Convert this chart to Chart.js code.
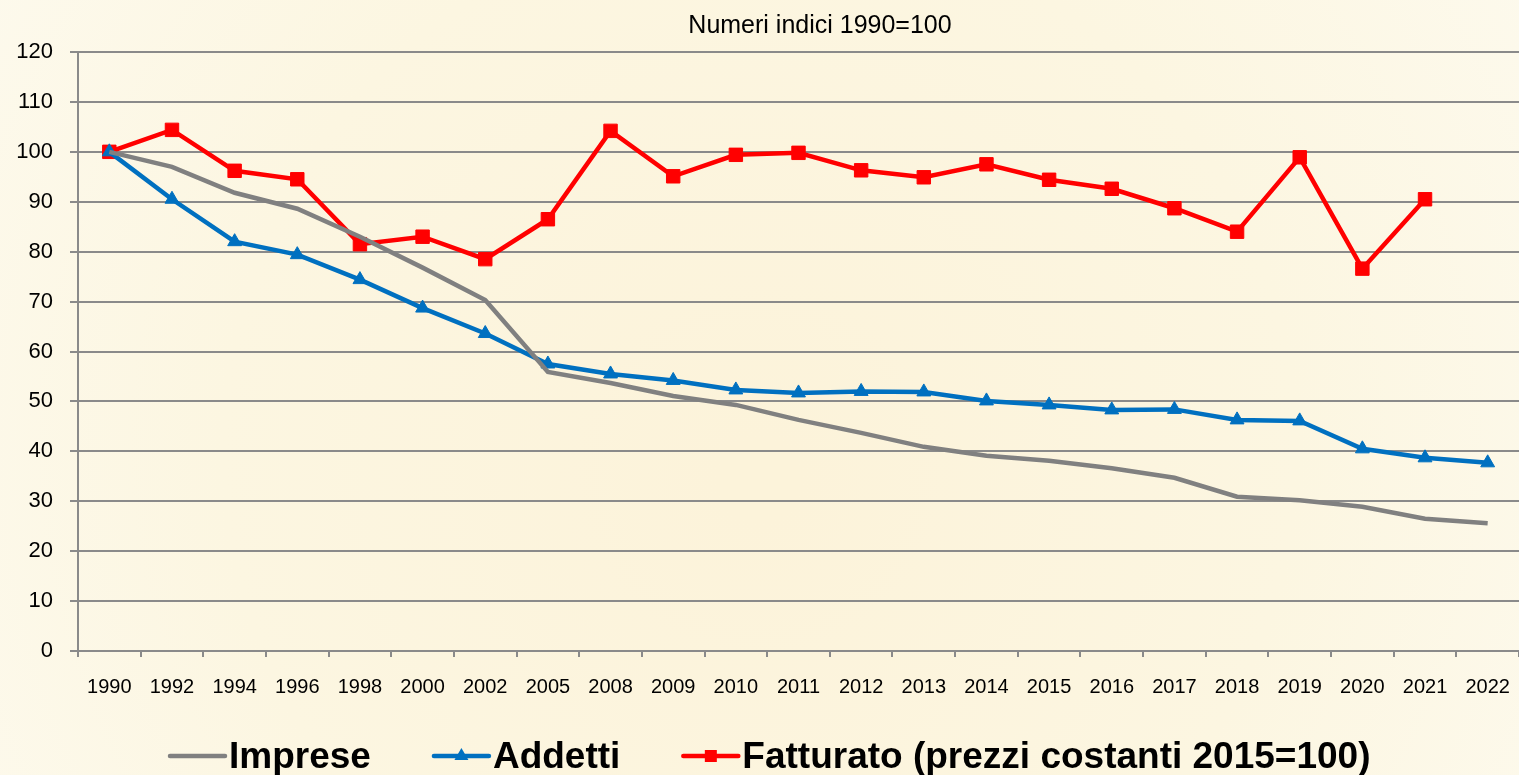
<!DOCTYPE html>
<html>
<head>
<meta charset="utf-8">
<script src="https://cdn.jsdelivr.net/npm/chart.js@4/dist/chart.umd.min.js"></script>
<style>
  html, body { margin: 0; padding: 0; background: #fdfaee; overflow: hidden; }
  canvas { display: block; }
</style>
</head>
<body>
<canvas id="chart" width="1519" height="775"></canvas>
<script>
const years = ["1990", "1992", "1994", "1996", "1998", "2000", "2002", "2005", "2008", "2009", "2010", "2011",
  "2012", "2013", "2014", "2015", "2016", "2017", "2018", "2019", "2020", "2021", "2022"];

const imprese = [100, 97.0, 91.8, 88.6, 83.0, 76.8, 70.3, 55.9, 53.7, 51.1, 49.3, 46.3,
  43.7, 40.9, 39.1, 38.1, 36.6, 34.7, 30.9, 30.2, 28.9, 26.5, 25.6];

const addetti = [100, 90.5, 82.0, 79.4, 74.4, 68.7, 63.6, 57.5, 55.5, 54.2, 52.3, 51.7,
  52.0, 51.9, 50.1, 49.3, 48.3, 48.4, 46.3, 46.1, 40.5, 38.7, 37.7];

const fatturato = [100, 104.4, 96.2, 94.5, 81.5, 83.0, 78.5, 86.5, 104.2, 95.1, 99.4, 99.8,
  96.3, 94.9, 97.5, 94.4, 92.6, 88.7, 84.0, 98.9, 76.6, 90.5, null];

const titleText = "Numeri indici 1990=100";
const seriesNames = ["Imprese", "Addetti", "Fatturato (prezzi costanti 2015=100)"];

const FONT = "'Liberation Sans', Arial, sans-serif";
const GRID = "#8a8a8a";

// sfondo + titolo + legenda disegnati a mano
const frame = {
  id: "frame",
  beforeDraw(chart) {
    const { ctx, width, height } = chart;
    ctx.save();
    const g = ctx.createRadialGradient(width * 0.5, height * 0.62, 40, width * 0.5, height * 0.55, width * 0.62);
    g.addColorStop(0, "#fcf3da");
    g.addColorStop(0.55, "#fcf6e1");
    g.addColorStop(1, "#fdfaee");
    ctx.fillStyle = g;
    ctx.fillRect(0, 0, width, height);
    ctx.restore();
  },
  afterDraw(chart) {
    const { ctx } = chart;
    ctx.save();
    ctx.fillStyle = "#000";
    ctx.font = "25px " + FONT;
    ctx.textAlign = "center";
    ctx.textBaseline = "alphabetic";
    ctx.fillText(titleText, 820, 33);

    // legenda
    ctx.font = "bold 37px " + FONT;
    ctx.textAlign = "left";
    const lineW = 55, gapText = 4, gapItem = 63, baseY = 768, midY = 756;
    let x = 170;
    chart.data.datasets.forEach(ds => {
      ctx.strokeStyle = ds.borderColor;
      ctx.lineWidth = 4.5;
      ctx.lineCap = "round";
      ctx.beginPath();
      ctx.moveTo(x, midY);
      ctx.lineTo(x + lineW, midY);
      ctx.stroke();
      const cx = x + lineW / 2;
      ctx.fillStyle = ds.borderColor;
      if (ds.pointStyle === "triangle") {
        ctx.beginPath();
        ctx.moveTo(cx, midY - 8);
        ctx.lineTo(cx + 7, midY + 4);
        ctx.lineTo(cx - 7, midY + 4);
        ctx.closePath();
        ctx.fill();
      } else if (ds.pointStyle === "rect") {
        ctx.fillRect(cx - 6, midY - 6, 12, 12);
      }
      x += lineW + gapText;
      ctx.fillStyle = "#000";
      ctx.fillText(ds.label, x, baseY);
      x += ctx.measureText(ds.label).width + gapItem;
    });
    ctx.restore();
  }
};

new Chart(document.getElementById("chart"), {
  type: "line",
  data: {
    labels: years,
    datasets: [
      {
        label: seriesNames[0],
        data: imprese,
        borderColor: "#808080",
        backgroundColor: "#808080",
        borderWidth: 4.5,
        pointRadius: 0,
        pointStyle: false,
        tension: 0
      },
      {
        label: seriesNames[1],
        data: addetti,
        borderColor: "#0070c0",
        backgroundColor: "#0070c0",
        borderWidth: 4.5,
        pointStyle: "triangle",
        pointRadius: 8,
        pointBorderWidth: 1,
        tension: 0
      },
      {
        label: seriesNames[2],
        data: fatturato,
        borderColor: "#ff0000",
        backgroundColor: "#ff0000",
        borderWidth: 4.5,
        pointStyle: "rect",
        pointRadius: 9.5,
        pointBorderWidth: 1,
        tension: 0,
        spanGaps: false
      }
    ]
  },
  options: {
    responsive: false,
    animation: false,
    layout: { autoPadding: false, padding: { top: 52, right: 0, bottom: 0, left: 0 } },
    plugins: {
      legend: { display: false },
      title: { display: false },
      tooltip: { enabled: false }
    },
    scales: {
      x: {
        offset: true,
        afterFit: s => { s.height = 124; s.paddingLeft = 0; s.paddingRight = 0; },
        grid: {
          offset: true,
          drawOnChartArea: false,
          drawTicks: true,
          tickLength: 6,
          color: GRID,
          lineWidth: 2
        },
        border: { color: GRID, width: 2 },
        ticks: {
          color: "#000",
          font: { family: FONT, size: 20 },
          padding: 18,
          maxRotation: 0,
          autoSkip: false
        }
      },
      y: {
        min: 0,
        max: 120,
        afterFit: s => { s.width = 78; },
        grid: {
          color: GRID,
          lineWidth: 2,
          drawTicks: true,
          tickLength: 8
        },
        border: { color: GRID, width: 2 },
        ticks: {
          stepSize: 10,
          color: "#000",
          font: { family: FONT, size: 22 },
          padding: 17
        }
      }
    }
  },
  plugins: [frame]
});
</script>
</body>
</html>
